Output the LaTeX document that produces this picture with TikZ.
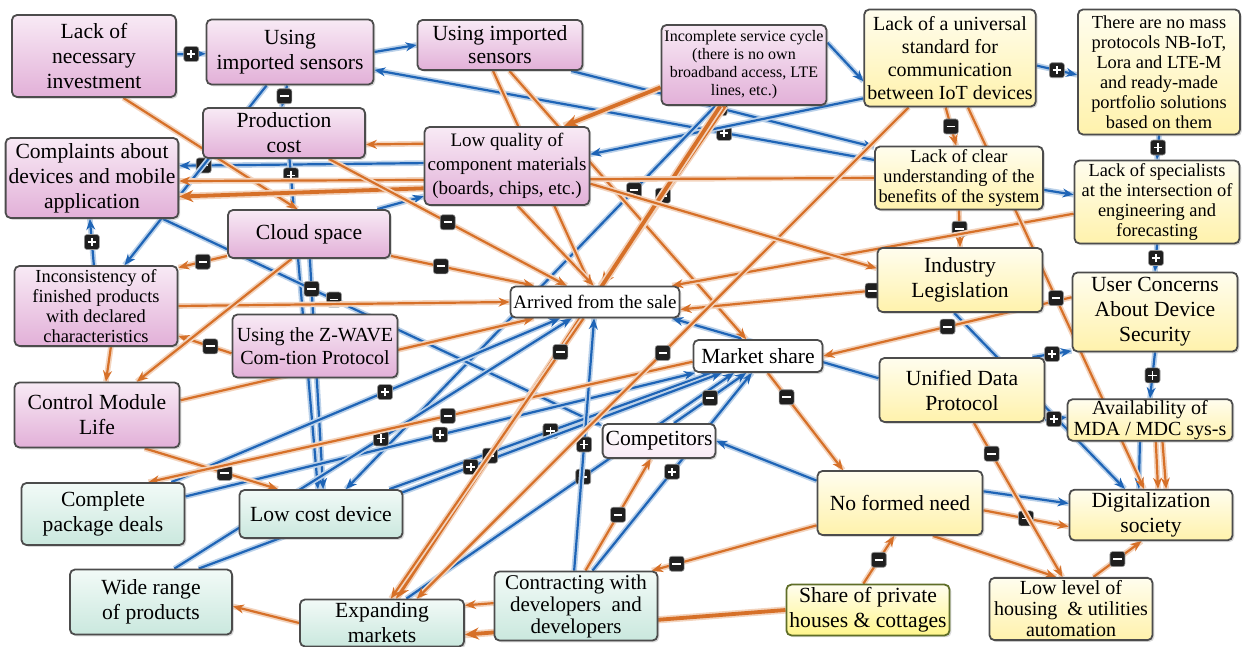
\documentclass[tikz,border=0pt]{standalone}
\usepackage{fontspec}
\setmainfont{Liberation Serif}
\usetikzlibrary{arrows.meta}
\usetikzlibrary{shadows}
\usetikzlibrary{backgrounds}

\definecolor{pinkT}{RGB}{248,234,245}
\definecolor{pinkB}{RGB}{226,176,216}
\definecolor{yelT}{RGB}{255,253,238}
\definecolor{yelB}{RGB}{255,242,172}
\definecolor{shareB}{RGB}{255,246,140}
\definecolor{grnT}{RGB}{242,250,247}
\definecolor{grnB}{RGB}{202,232,222}
\definecolor{orangeL}{RGB}{214,112,40}
\definecolor{blueL}{RGB}{30,100,182}
\definecolor{oliveL}{RGB}{95,110,40}

\newcommand\fbig{\fontsize{10.8}{12.5}\selectfont}
\newcommand\fmed{\fontsize{10}{11.5}\selectfont}
\newcommand\fsml{\fontsize{9.2}{10}\selectfont}
\newcommand\ftiny{\fontsize{8}{9}\selectfont}

\tikzset{
  box/.style={draw=black!70, line width=0.9pt, rounded corners=2.5pt, align=center,
    inner sep=1.5pt, font=\fbig,
    drop shadow={shadow xshift=0.9pt, shadow yshift=-0.9pt, opacity=0.3}},
  pinkbox/.style={box, top color=pinkT, bottom color=pinkB},
  yelbox/.style={box, top color=yelT, bottom color=yelB},
  grnbox/.style={box, top color=grnT, bottom color=grnB},
  whbox/.style={box, fill=white},
  posline/.style={draw=blueL, line width=1.1pt, -{Stealth[length=5.5pt,width=4.5pt]},
    preaction={draw=blueL!30, line width=2.8pt, -}},
  negline/.style={draw=orangeL, line width=1.1pt, -{Stealth[length=5.5pt,width=4.5pt]},
    preaction={draw=orangeL!30, line width=2.8pt, -}},
  negfat/.style={draw=orangeL, line width=1.9pt, -{Stealth[length=7pt,width=6pt]},
    preaction={draw=orangeL!30, line width=3.6pt, -}},
  sgn/.style={fill=black!88, draw=black!40, line width=0.3pt, rounded corners=1.3pt,
    minimum size=7.5pt, inner sep=0pt},
  pmark/.style={sgn, path picture={\draw[white, line width=0.9pt, -]
    ([xshift=-2.1pt]path picture bounding box.center) -- ([xshift=2.1pt]path picture bounding box.center)
    ([yshift=-2.1pt]path picture bounding box.center) -- ([yshift=2.1pt]path picture bounding box.center);}},
  mmark/.style={sgn, path picture={\draw[white, line width=0.9pt, -]
    ([xshift=-2.1pt]path picture bounding box.center) -- ([xshift=2.1pt]path picture bounding box.center);}},
}

\begin{document}
\begin{tikzpicture}[x=0.5pt, y=-0.5pt]
  \useasboundingbox (0,0) rectangle (1243,647);

  % factors, pink group
  \node[pinkbox, minimum width=82pt, minimum height=41pt] (inv) at (94,56) {Lack of\\necessary\\investment};
  \node[pinkbox, minimum width=83.5pt, minimum height=32.5pt] (impA) at (290,52) {Using\\imported sensors};
  \node[pinkbox, minimum width=82.5pt, minimum height=25pt, font=\fontsize{10.8}{11.5}\selectfont] (impB) at (500,45) {Using imported\\sensors};
  \node[pinkbox, minimum width=81.5pt, minimum height=40pt, font=\ftiny] (svc) at (744,65) {Incomplete service cycle\\(there is no own\\broadband access, LTE\\lines, etc.)};
  \node[pinkbox, minimum width=81pt, minimum height=25pt] (prod) at (284,133) {Production\\cost};
  \node[pinkbox, minimum width=82.5pt, minimum height=40pt] (compl) at (92,178) {Complaints about\\devices and mobile\\application};
  \node[pinkbox, minimum width=81pt, minimum height=39pt, font=\fontsize{9.5}{12}\selectfont] (lowq) at (507,166) {Low quality of\\component materials\\(boards, chips, etc.)};
  \node[pinkbox, minimum width=81pt, minimum height=24pt] (cloud) at (309,234) {Cloud space};
  \node[pinkbox, minimum width=81.5pt, minimum height=40pt, font=\fsml] (incons) at (96,306) {Inconsistency of\\finished products\\with declared\\characteristics};
  \node[pinkbox, minimum width=82.5pt, minimum height=31.5pt, font=\fmed] (zwave) at (315,346) {Using the Z-WAVE\\Com-tion Protocol};
  \node[pinkbox, minimum width=82.5pt, minimum height=32.5pt] (ctrl) at (97,415) {Control Module\\Life};

  % factors, yellow group
  \node[yelbox, minimum width=83pt, minimum height=48.5pt, font=\fmed] (std) at (950,58) {Lack of a universal\\standard for\\communication\\between IoT devices};
  \node[yelbox, minimum width=81pt, minimum height=62.5pt, font=\fsml] (mass) at (1159,72) {There are no mass\\protocols NB-IoT,\\Lora and LTE-M\\and ready-made\\portfolio solutions\\based on them};
  \node[yelbox, minimum width=84pt, minimum height=31.5pt, font=\fsml] (clear) at (959,178) {Lack of clear\\understanding of the\\benefits of the system};
  \node[yelbox, minimum width=82.5pt, minimum height=40pt, font=\fsml] (spec) at (1157,202) {Lack of specialists\\at the intersection of\\engineering and\\forecasting};
  \node[yelbox, minimum width=82.5pt, minimum height=32pt] (legis) at (960,280) {Industry\\Legislation};
  \node[yelbox, minimum width=82.5pt, minimum height=39.5pt] (users) at (1155,312) {User Concerns\\About Device\\Security};
  \node[yelbox, minimum width=82.5pt, minimum height=32pt] (unified) at (962,390) {Unified Data\\Protocol};
  \node[yelbox, minimum width=82.5pt, minimum height=20pt, inner sep=0.5pt, font=\fontsize{10}{10.5}\selectfont] (mda) at (1150,420) {Availability of\\MDA / MDC sys-s};
  \node[yelbox, minimum width=82.5pt, minimum height=32pt] (noneed) at (900,503) {No formed need};
  \node[yelbox, minimum width=81.5pt, minimum height=25pt] (digit) at (1151,515) {Digitalization\\society};
  \node[yelbox, draw=oliveL, bottom color=shareB, minimum width=81.5pt, minimum height=25pt] (share) at (868,610) {Share of private\\houses \& cottages};
  \node[yelbox, minimum width=81.5pt, minimum height=31pt, font=\fontsize{10}{10.5}\selectfont] (lowlvl) at (1071,609) {Low level of\\housing\ \ \& utilities\\automation};

  % white group
  \node[whbox, minimum width=81.5pt, minimum height=15.5pt, font=\fontsize{9.5}{11}\selectfont] (sale) at (595,302) {Arrived from the sale};
  \node[whbox, minimum width=64.5pt, minimum height=16pt] (mshare) at (758,356) {Market share};
  \node[whbox, bottom color=pinkT, top color=white, minimum width=56pt, minimum height=17pt] (compet) at (659,441) {Competitors};

  % green group
  \node[grnbox, minimum width=81.5pt, minimum height=31pt] (pkg) at (103,514) {Complete\\package deals};
  \node[grnbox, minimum width=81.5pt, minimum height=24pt] (lowcost) at (321,514) {Low cost device};
  \node[grnbox, minimum width=81pt, minimum height=32.5pt] (wide) at (151,602) {Wide range\\of products};
  \node[grnbox, minimum width=82pt, minimum height=23.5pt] (expand) at (382,623) {Expanding\\markets};
  \node[grnbox, minimum width=81.5pt, minimum height=33.5pt, font=\fontsize{10.5}{11}\selectfont] (contr) at (576,606) {Contracting with\\developers\ \ and\\developers};

  \begin{scope}[on background layer]
    % positive links
    \draw[posline] (inv) -- node[pmark] (m1) {} (impA);
    \draw[posline] (impA.east) -- (impB.west);
    \draw[posline] (clear.168) -- node[pmark,pos=0.3] (m2) {} (impA.-12);
    \draw[posline] (impB.-20) -- node[mmark,pos=0.49] (m3) {} (clear.160);
    \draw[posline] (std.205) -- (lowq.8);
    \draw[posline] (svc.-125) -- node[mmark,pos=0.22] (m4) {} (lowcost.45);
    \draw[posline] (lowq.178) -- node[mmark,pos=0.9] (m5) {} (compl.8);
    \draw[posline] (prod.-78) -- node[pmark,pos=0.05] (m6) {} (lowcost.97);
    \draw[posline] (impA.-95) -- node[mmark] (m7) {} (prod.95);
    \draw[posline] (incons.93) -- node[pmark] (m8) {} (compl.-93);
    \draw[posline] (impA.-125) -- (incons.55);
    \draw[posline] (compl.-30) -- node[mmark,pos=0.39] (m9) {} (compet.165);
    \draw[posline] (cloud.-88) -- node[mmark,pos=0.13] (m10) {} (lowcost.85);
    \draw[posline] (pkg.25) -- node[pmark,pos=0.55] (m11) {} (sale.205);
    \draw[posline] (pkg.12) -- node[pmark,pos=0.5] (m12) {} (mshare.195);
    \draw[posline] (lowcost.20) -- node[pmark,pos=0.5] (m13) {} (mshare.200);
    \draw[posline] (wide.55) -- node[pmark,pos=0.52] (m14) {} (sale.215);
    \draw[posline] (wide.35) -- node[pmark,pos=0.52] (m15) {} (mshare.205);
    \draw[posline] (expand.45) -- node[pmark,pos=0.54] (m16) {} (mshare.215);
    \draw[posline] (contr.93) -- node[pmark,pos=0.5] (m17) {} (sale.-93);
    \draw[posline] (contr.65) -- node[pmark,pos=0.5] (m18) {} (mshare.-110);
    \draw[posline] (compet.50) -- node[mmark,pos=0.5] (m19) {} (mshare.-125);
    \draw[posline] (noneed.165) -- (compet.east);
    \draw[posline] (noneed.8) -- (digit.172);
    \draw[posline] (std.-5) -- node[pmark] (m20) {} (mass.182);
    \draw[posline] (mass.-90) -- node[pmark] (m21) {} (spec.90);
    \draw[posline] (spec.-90) -- node[pmark] (m22) {} (users.90);
    \draw[posline] (users.-90) -- node[pmark] (m23) {} (mda.90);
    \draw[posline] (mda.-115) -- (digit.115);
    \draw[posline] (legis.-100) -- (digit.135);
    \draw[posline] (clear.-8) -- (spec.175);
    \draw[posline] (unified.172) -- (sale.-12);
    \draw[posline] (unified.25) -- node[pmark] (m24) {} (users.-155);
    \draw[posline] (unified.-20) -- node[pmark,pos=0.4] (m25) {} (mda.178);
    \draw[posline] (svc.15) -- (std.195);
    \draw[posline] (cloud.20) -- (lowq.-160);

    % negative links
    \draw[negline] (inv.-55) -- (cloud.115);
    \draw[negline] (impB.-105) -- (sale.105);
    \draw[negline] (impB.-70) -- (mshare.125);
    \draw[negfat] (svc.-115) -- node[mmark,pos=0.5] (m26) {} (sale.70);
    \draw[negfat] (svc.-120) -- node[mmark,pos=0.71] (m27) {} (expand.60);
    \draw[negfat] (svc.195) -- (lowq.35);
    \draw[negline] (lowq.165) -- (prod.-8);
    \draw[negfat] (lowq.-165) -- (compl.-12);
    \draw[negline] (clear.west) -- (compl.-2);
    \draw[negline] (prod.-30) -- node[mmark,pos=0.5] (m28) {} (sale.150);
    \draw[negline] (cloud.-15) -- node[mmark,pos=0.35] (m29) {} (sale.165);
    \draw[negline] (incons.east) -- (sale.west);
    \draw[negline] (cloud.-165) -- node[mmark,pos=0.5] (m30) {} (incons.25);
    \draw[negline] (zwave.185) -- node[mmark,pos=0.4] (m31) {} (incons.-20);
    \draw[negline] (incons.-70) -- (ctrl.75);
    \draw[negline] (cloud.-125) -- (ctrl.40);
    \draw[negline] (ctrl.-35) -- node[mmark,pos=0.6] (m32) {} (lowcost.150);
    \draw[negline] (mshare.185) -- node[mmark,pos=0.45] (m33) {} (pkg.35);
    \draw[negline] (ctrl.10) -- (sale.195);
    \draw[negfat] (share.west) -- (expand.-8);
    \draw[negline] (contr.178) -- (expand.12);
    \draw[negline] (share.100) -- node[mmark,pos=0.5] (m34) {} (noneed.-100);
    \draw[negline] (noneed.195) -- node[mmark,pos=0.85] (m35) {} (contr.25);
    \draw[negline] (noneed.-5) -- node[mmark,pos=0.5] (m36) {} (digit.188);
    \draw[negline] (noneed.-45) -- (lowlvl.115);
    \draw[negline] (unified.-70) -- node[mmark,pos=0.2] (m37) {} (lowlvl.105);
    \draw[negline] (lowlvl.55) -- node[mmark,pos=0.5] (m38) {} (digit.-110);
    \draw[negline] (mda.-75) -- (digit.75);
    \draw[negline] (mda.-60) -- (digit.60);
    \draw[negline] (std.-95) -- node[mmark,pos=0.5] (m39) {} (clear.95);
    \draw[negline] (clear.-90) -- node[mmark,pos=0.5] (m40) {} (legis.90);
    \draw[negline] (spec.188) -- (sale.12);
    \draw[negline] (legis.187) -- node[mmark,pos=0.02] (m41) {} (sale.-5);
    \draw[negline] (users.170) -- node[mmark,pos=0.5] (m42) {} (mshare.east);
    \draw[negline] (std.-130) -- node[mmark,pos=0.5] (m43) {} (expand.35);
    \draw[negline] (std.-70) -- node[mmark,pos=0.5] (m44) {} (digit.105);
    \draw[negline] (lowq.-75) -- (sale.95);
    \draw[negline] (lowq.-12) -- (legis.172);
    \draw[negline] (mshare.-60) -- node[mmark,pos=0.25] (m45) {} (noneed.150);
    \draw[negline] (contr.75) -- node[mmark,pos=0.5] (m46) {} (compet.-115);
    \draw[negline] (expand.west) -- (wide.-3);
    \draw[negline] (sale.-125) -- node[mmark,pos=0.12] (m47) {} (expand.70);
  \end{scope}
\end{tikzpicture}
\end{document}
